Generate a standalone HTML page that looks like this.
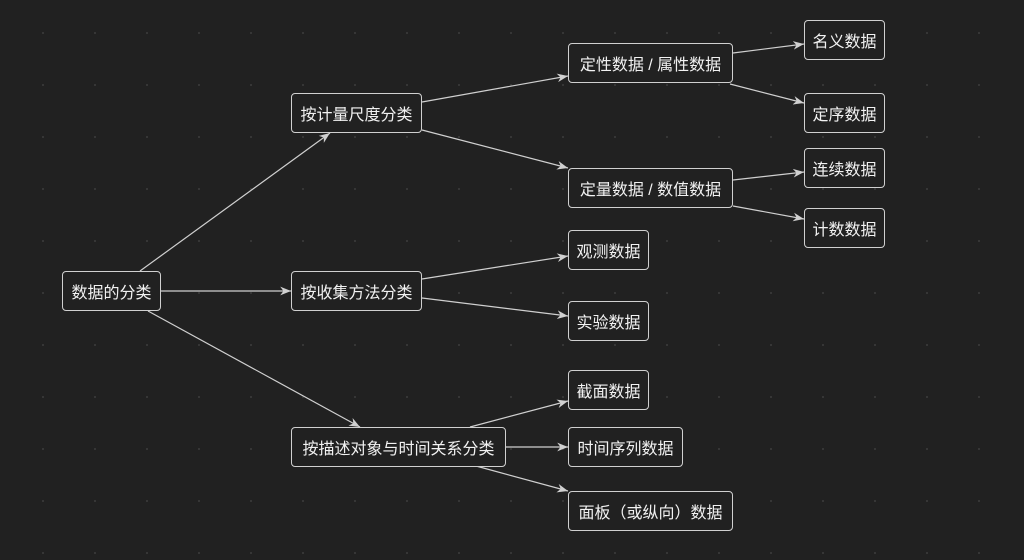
<!DOCTYPE html>
<html><head><meta charset="utf-8"><style>
html,body{margin:0;padding:0;background:#212121;}
body{width:1024px;height:560px;position:relative;overflow:hidden;
background-image:radial-gradient(circle,#3a3a3a 0.8px,transparent 1.2px);background-size:52px 52px;background-position:17px 7px;
font-family:"Liberation Sans","Noto Sans CJK SC",sans-serif;}
.b{position:absolute;box-sizing:border-box;border:1.3px solid #d0d0d0;border-radius:4px;color:#f2f2f2;font-size:16px;display:flex;align-items:center;justify-content:center;background:#212121;white-space:nowrap;}
svg{position:absolute;left:0;top:0;}
</style></head><body>
<svg width="1024" height="560">
<defs><marker id="a" viewBox="0 0 10 10" refX="10" refY="5" markerWidth="9" markerHeight="9" orient="auto"><path d="M0,1 L10,5 L0,9 L3,5 z" fill="#d0d0d0"/></marker></defs>
<g stroke="#d0d0d0" stroke-width="1.2" fill="none" marker-end="url(#a)">
<line x1="140" y1="271" x2="330" y2="133"/>
<line x1="161" y1="291" x2="291" y2="291"/>
<line x1="148" y1="311" x2="360" y2="427"/>
<line x1="422" y1="102" x2="568" y2="76"/>
<line x1="422" y1="130" x2="568" y2="168"/>
<line x1="422" y1="279" x2="568" y2="256"/>
<line x1="422" y1="298" x2="568" y2="316"/>
<line x1="470" y1="427" x2="568" y2="401"/>
<line x1="506" y1="447" x2="568" y2="447"/>
<line x1="476" y1="466" x2="568" y2="491"/>
<line x1="733" y1="53" x2="804" y2="44"/>
<line x1="730" y1="84" x2="804" y2="103"/>
<line x1="733" y1="180" x2="804" y2="172"/>
<line x1="733" y1="206" x2="804" y2="219"/>
</g></svg>
<div class="b" style="left:62px;top:271px;width:99px;height:40px">数据的分类</div>
<div class="b" style="left:291px;top:93px;width:131px;height:40px">按计量尺度分类</div>
<div class="b" style="left:291px;top:271px;width:131px;height:40px">按收集方法分类</div>
<div class="b" style="left:291px;top:427px;width:215px;height:40px">按描述对象与时间关系分类</div>
<div class="b" style="left:568px;top:43px;width:165px;height:40px">定性数据 / 属性数据</div>
<div class="b" style="left:568px;top:168px;width:165px;height:40px">定量数据 / 数值数据</div>
<div class="b" style="left:568px;top:230px;width:81px;height:40px">观测数据</div>
<div class="b" style="left:568px;top:301px;width:81px;height:40px">实验数据</div>
<div class="b" style="left:568px;top:370px;width:81px;height:40px">截面数据</div>
<div class="b" style="left:568px;top:427px;width:115px;height:40px">时间序列数据</div>
<div class="b" style="left:568px;top:491px;width:165px;height:40px">面板（或纵向）数据</div>
<div class="b" style="left:804px;top:20px;width:81px;height:40px">名义数据</div>
<div class="b" style="left:804px;top:93px;width:81px;height:40px">定序数据</div>
<div class="b" style="left:804px;top:148px;width:81px;height:40px">连续数据</div>
<div class="b" style="left:804px;top:208px;width:81px;height:40px">计数数据</div>
</body></html>
